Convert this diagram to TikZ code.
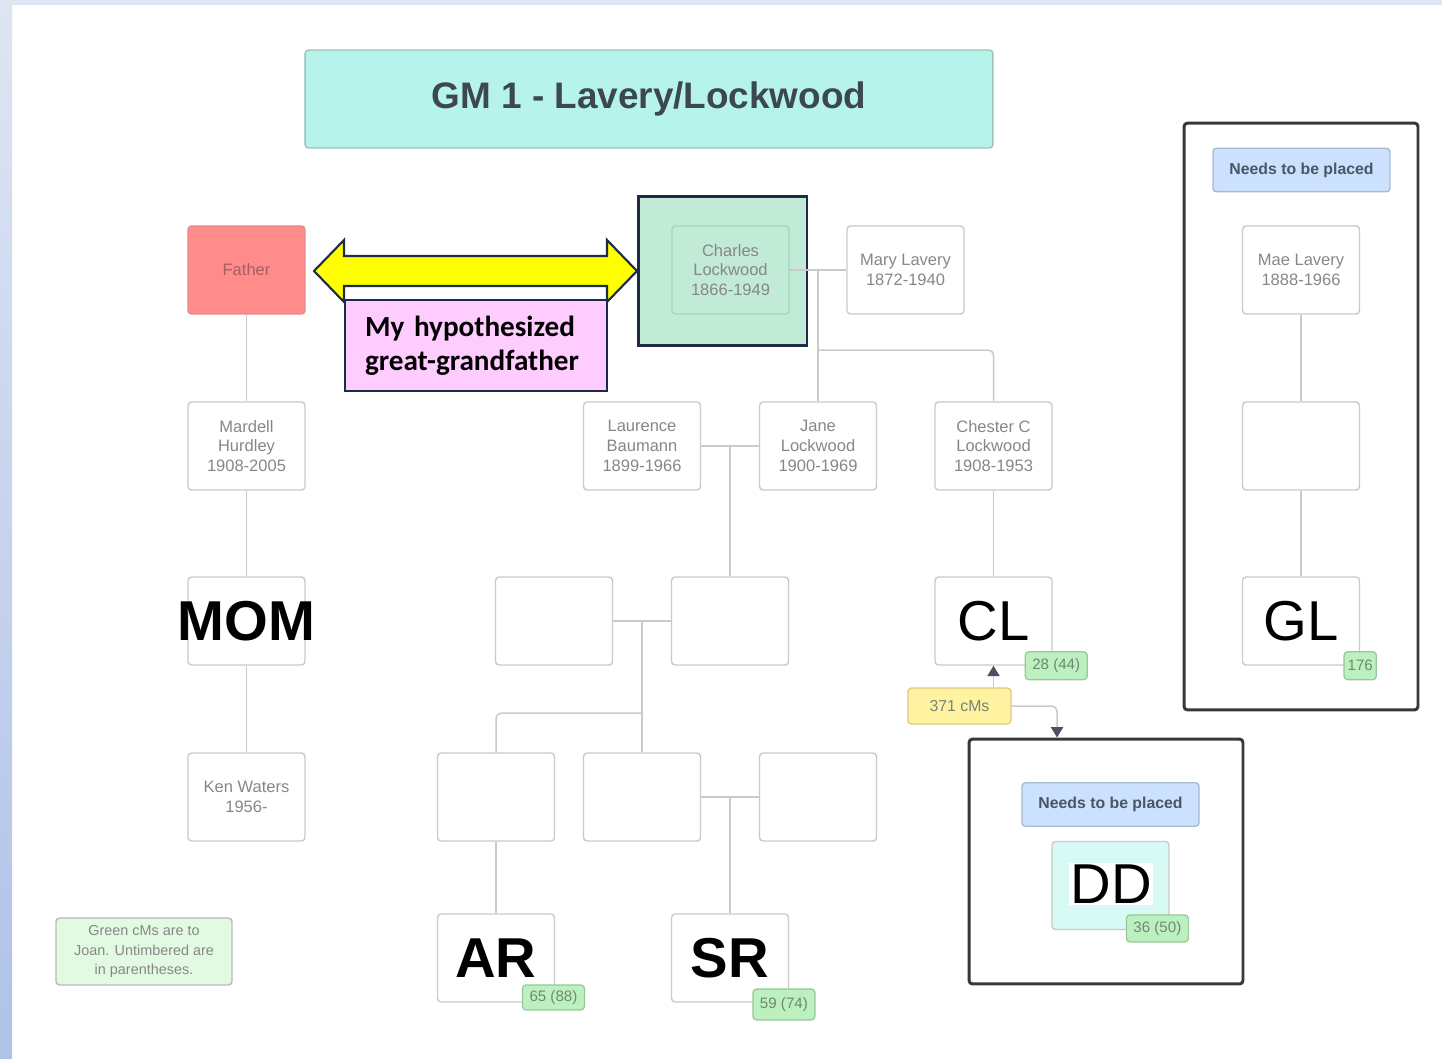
\documentclass[tikz,border=0pt]{standalone}
\usepackage{xcolor}
\usepackage{fontspec}
\setmainfont{Liberation Sans}
\newfontfamily\calibri{Carlito}
\usepackage{tikz}
\usetikzlibrary{arrows.meta}
\usetikzlibrary{positioning}

\definecolor{sidetop}{HTML}{DEE5F3}
\definecolor{sidebot}{HTML}{AFC2E8}
\definecolor{boxgray}{HTML}{C9CACE}
\definecolor{textgray}{HTML}{878787}
\definecolor{titlefill}{HTML}{B6F3EA}
\definecolor{titleline}{HTML}{9CC2BC}
\definecolor{titletext}{HTML}{3D4752}
\definecolor{fatherfill}{HTML}{FF8B8B}
\definecolor{fathertext}{HTML}{A85E62}
\definecolor{charlesfill}{HTML}{C1EBD6}
\definecolor{charlesline}{HTML}{A6D4BE}
\definecolor{navy}{HTML}{1E2A48}
\definecolor{hypyellow}{HTML}{FFFF00}
\definecolor{hyppink}{HTML}{FFCCFF}
\definecolor{needsfill}{HTML}{CCE1FE}
\definecolor{needsline}{HTML}{A9B9D2}
\definecolor{needstext}{HTML}{4A5566}
\definecolor{cmgreen}{HTML}{BDF0BF}
\definecolor{cmline}{HTML}{98C79A}
\definecolor{cmtext}{HTML}{6E8A70}
\definecolor{cmyellow}{HTML}{FFF3A2}
\definecolor{cmyline}{HTML}{D9CA82}
\definecolor{ddfill}{HTML}{D7FAF4}
\definecolor{notefill}{HTML}{E1FAE1}
\definecolor{wrapline}{HTML}{383838}
\definecolor{tipgray}{HTML}{4A5263}

\begin{document}
\begin{tikzpicture}[x=0.02cm, y=-0.02cm,
  person/.style={rectangle, draw=boxgray, line width=0.8pt, rounded corners=2pt, fill=white,
    minimum width=2.34cm, minimum height=1.76cm, inner sep=0pt, align=center,
    text=textgray, font=\fontsize{9.4}{11.3}\selectfont},
  bigname/.style={text=black, font=\fontsize{32}{34}\selectfont},
  bigbold/.style={text=black, font=\bfseries\fontsize{32}{34}\selectfont},
  cmbadge/.style={rectangle, draw=cmline, line width=0.7pt, rounded corners=2pt, fill=cmgreen,
    minimum height=0.56cm, inner xsep=4pt, inner ysep=0pt, text=cmtext,
    font=\fontsize{8.6}{10}\selectfont},
  needsbox/.style={rectangle, draw=needsline, line width=0.8pt, rounded corners=2pt, fill=needsfill,
    minimum width=3.54cm, minimum height=0.87cm, text=needstext,
    font=\bfseries\fontsize{9}{10}\selectfont},
  wrapbox/.style={rectangle, draw=wrapline, line width=1.7pt, rounded corners=2pt},
  link/.style={draw=boxgray, line width=0.85pt},
  cmarrow/.style={draw=boxgray, line width=0.85pt, rounded corners=3pt,
    -{Triangle[width=7pt,length=6pt,color=tipgray]}}
 ]
 \useasboundingbox (0,0) rectangle (1442,1058);

 % page background
 \fill[white] (0,0) rectangle (1442,1058);
 \shade[top color=sidetop, bottom color=sidebot] (0,0) rectangle (12,1058);
 \fill[sidetop] (12,0) rectangle (1442,5);

 % title
 \node [rectangle, draw=titleline, line width=0.8pt, rounded corners=2pt, fill=titlefill,
   minimum width=13.76cm, minimum height=1.96cm, text=titletext,
   font=\bfseries\fontsize{21}{24}\selectfont] (title) at (649,99) {GM 1 - Lavery/Lockwood};

 % generation 1
 \node [person, fill=fatherfill, draw=fatherfill!80!gray, text=fathertext] (father) at (246.5,270) {Father};
 \node [rectangle, draw=navy, line width=1.7pt, fill=charlesfill,
   minimum width=3.38cm, minimum height=3.0cm] (charlesbg) at (722.5,271) {};
 \node [person, fill=charlesfill, draw=charlesline] (charles) at (730.5,270) {Charles\\Lockwood\\1866-1949};
 \node [person] (mary) at (905.5,270) {Mary Lavery\\1872-1940};

 % hypothesis arrow
 \filldraw [fill=hypyellow, draw=navy, line width=1.2pt, line join=miter]
   (314,271) -- (344,240) -- (344,256) -- (607,256) -- (607,240) -- (637,271)
   -- (607,302) -- (607,286) -- (344,286) -- (344,302) -- cycle;
 \node [rectangle, draw=navy, line width=1.2pt, fill=hyppink, minimum height=1.82cm,
   text width=4.44cm, inner xsep=0.4cm, align=left, text=black,
   font=\calibri\bfseries\fontsize{16.6}{19.5}\selectfont] (hyp) at (476,345.5)
   {My hypothesized\\great-grandfather};

 % generation 2
 \node [person] (mardell) at (246.5,446) {Mardell\\Hurdley\\1908-2005};
 \node [person] (laurence) at (642,446) {Laurence\\Baumann\\1899-1966};
 \node [person] (jane) at (818,446) {Jane\\Lockwood\\1900-1969};
 \node [person] (chester) at (993.5,446) {Chester C\\Lockwood\\1908-1953};

 % generation 3
 \node [person, bigbold] (mom) at (246.5,621) {\makebox[0pt]{MOM}};
 \node [person] (blanka) at (554,621) {};
 \node [person] (blankb) at (730,621) {};
 \node [person, bigname] (cl) at (993.5,621) {CL};

 % generation 4
 \node [person] (ken) at (246.5,797) {Ken Waters\\1956-};
 \node [person] (blankc) at (496,797) {};
 \node [person] (blankd) at (642,797) {};
 \node [person] (blanke) at (818,797) {};

 % generation 5
 \node [person, bigbold] (ar) at (496,958) {AR};
 \node [person, bigbold] (sr) at (730,958) {SR};

 % unplaced Lavery line
 \node [wrapbox, minimum width=4.68cm, minimum height=11.74cm] (glwrap) at (1301,416.5) {};
 \node [needsbox] (glneeds) at (1301.5,170) {Needs to be placed};
 \node [person] (mae) at (1301,270) {Mae Lavery\\1888-1966};
 \node [person] (maekid) at (1301,446) {};
 \node [person, bigname] (gl) at (1301,621) {GL};

 % unplaced match
 \node [wrapbox, minimum width=5.48cm, minimum height=4.9cm] (ddwrap) at (1106,861.5) {};
 \node [needsbox] (ddneeds) at (1110.5,804.5) {Needs to be placed};
 \node [person, fill=ddfill] (dd) at (1110.5,885.5) {};
 \node [bigname, fill=white, inner sep=1pt] (ddname) at (1111,884) {DD};

 % shared cMs
 \node [cmbadge] (clcm) at ([xshift=2pt]cl.south east) {28 (44)};
 \node [cmbadge, inner xsep=2pt] (glcm) at (gl.south east) {176};
 \node [cmbadge, minimum height=0.5cm] (arcm) at ([xshift=-1pt, yshift=3pt]ar.south east) {65 (88)};
 \node [cmbadge, minimum height=0.62cm] (srcm) at ([xshift=-3pt, yshift=-1pt]sr.south east) {59 (74)};
 \node [cmbadge, minimum height=0.54cm] (ddcm) at ([xshift=-7pt, yshift=1pt]dd.south east) {36 (50)};
 \node [rectangle, draw=cmyline, line width=0.7pt, rounded corners=2pt, fill=cmyellow,
   minimum width=2.06cm, minimum height=0.72cm, text=cmtext!70!gray,
   font=\fontsize{9}{10}\selectfont] (cms) at (959.5,706) {371 cMs};
 \coordinate (ddin) at ([xshift=-0.98cm]ddwrap.north);

 % legend
 \node [rectangle, draw=boxgray!80!gray, line width=0.8pt, rounded corners=2pt, fill=notefill,
   minimum width=3.52cm, minimum height=1.34cm, inner sep=1pt, align=center, text=textgray,
   font=\fontsize{8.2}{11.3}\selectfont] (legend) at (144,951.5)
   {Green cMs are to\\Joan. Untimbered are\\in parentheses.};

 % descent lines
 \draw [link] (father) to (mardell);
 \draw [link] (mardell) to (mom);
 \draw [link] (mom) to (ken);
 \draw [link] (charles.east) to (mary.west);
 \draw [link] (charles.east -| jane) to (jane.north);
 \coordinate (janefork) at (818,350);
 \draw [link, rounded corners=3pt] (janefork) -| (chester.north);
 \draw [link] (chester) to (cl);
 \draw [link] (laurence.east) to (jane.west);
 \draw [link] (laurence.east -| blankb) to (blankb.north);
 \draw [link] (blanka.east) to (blankb.west);
 \draw [link] (blanka.east -| blankd) to (blankd.north);
 \coordinate (blankfork) at (642,713);
 \draw [link, rounded corners=3pt] (blankfork) -| (blankc.north);
 \draw [link] (blankd.east) to (blanke.west);
 \draw [link] (blankd.east -| sr) to (sr.north);
 \draw [link] (blankc) to (ar);
 \draw [link] (mae) to (maekid);
 \draw [link] (maekid) to (gl);

 % cM arrows
 \draw [cmarrow] (cms.north -| cl) to (cl.south);
 \draw [cmarrow] (cms.east) -| (ddin);
\end{tikzpicture}
\end{document}
